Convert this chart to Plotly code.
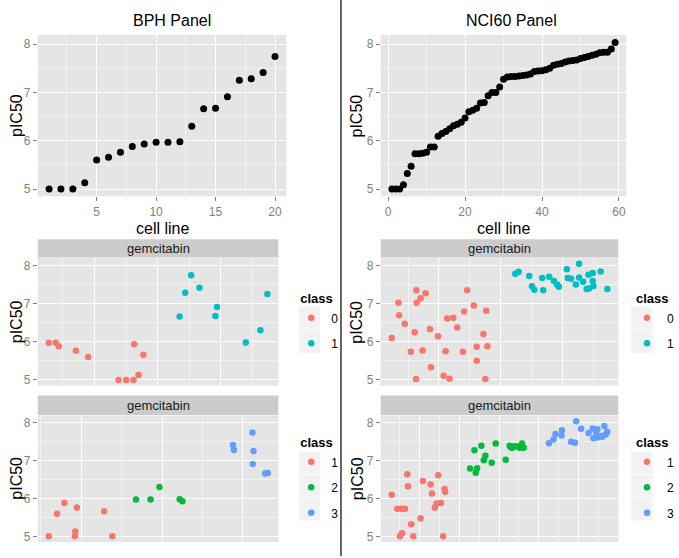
import plotly.graph_objects as go

W, H = 679, 558
FONT = "Liberation Sans"

# ---------------- data ----------------
bph_line = list(range(1, 21))
bph_pic50 = [5.00, 5.00, 5.00, 5.13, 5.60, 5.66, 5.76, 5.88, 5.93, 5.97,
             5.97, 5.98, 6.30, 6.66, 6.67, 6.91, 7.25, 7.28, 7.41, 7.74]

nci_line = list(range(1, 60))
nci_pic50 = [5.00, 5.00, 5.00, 5.09, 5.32, 5.47, 5.73, 5.73, 5.74, 5.76,
             5.87, 5.87, 6.09, 6.15, 6.19, 6.25, 6.31, 6.34, 6.38, 6.47,
             6.60, 6.63, 6.67, 6.78, 6.79, 6.93, 7.00, 7.00, 7.11, 7.27,
             7.32, 7.33, 7.33, 7.34, 7.35, 7.36, 7.38, 7.43, 7.44, 7.45,
             7.47, 7.50, 7.56, 7.58, 7.60, 7.63, 7.65, 7.66, 7.67, 7.70,
             7.72, 7.74, 7.77, 7.79, 7.82, 7.83, 7.83, 7.90, 8.03]

# BPH, two classes (jittered class position)
bph2_c0_x = [0.638, 0.693, 0.717, 0.853, 0.950, 1.191, 1.252, 1.309, 1.349, 1.315, 1.388]
bph2_c0_y = [5.97, 5.97, 5.88, 5.76, 5.60, 5.00, 5.00, 5.00, 5.13, 5.93, 5.66]
bph2_c1_x = [1.675, 1.719, 1.766, 1.832, 1.958, 1.971, 2.199, 2.315, 2.370]
bph2_c1_y = [6.66, 7.28, 7.74, 7.41, 6.67, 6.91, 5.98, 6.30, 7.25]

# BPH, three classes
bph3_c1_x = [0.598, 0.700, 0.791, 0.946, 0.926, 0.921, 1.283, 1.385]
bph3_c1_y = [5.00, 5.60, 5.88, 5.76, 5.13, 5.00, 5.66, 5.00]
bph3_c2_x = [1.677, 1.857, 1.968, 2.218, 2.251]
bph3_c2_y = [5.97, 5.97, 6.30, 5.98, 5.93]
bph3_c3_x = [2.877, 2.889, 3.119, 3.132, 3.123, 3.276, 3.308]
bph3_c3_y = [7.41, 7.28, 7.74, 7.25, 6.91, 6.66, 6.67]

# NCI60, two classes
nci2_c0_x = [0.618, 0.672, 0.677, 0.723, 0.772, 0.804, 0.817, 0.820, 0.852, 0.868,
             0.892, 0.935, 0.927, 0.992, 1.038, 1.054, 1.067, 1.086, 1.116, 1.148,
             1.194, 1.204, 1.228, 1.282, 1.306, 1.306, 1.360, 1.376, 1.382, 1.392, 0.815]
nci2_c0_y = [6.10, 7.02, 6.69, 6.47, 5.74, 6.25, 7.35, 7.02, 7.14, 5.77,
             7.27, 5.33, 6.33, 6.14, 5.11, 5.75, 6.61, 5.03, 6.63, 6.37,
             5.74, 6.79, 7.35, 6.95, 5.87, 5.50, 6.20, 5.02, 6.81, 5.88, 5.02]
nci2_c1_x = [1.618, 1.645, 1.731, 1.753, 1.772, 1.836, 1.844, 1.892, 1.930, 1.957,
             1.970, 2.035, 2.043, 2.070, 2.108, 2.134, 2.134, 2.167, 2.196, 2.210,
             2.215, 2.245, 2.245, 2.250, 2.309, 2.363]
nci2_c1_y = [7.78, 7.83, 7.72, 7.45, 7.36, 7.67, 7.35, 7.70, 7.59, 7.50,
             7.44, 7.90, 7.67, 7.65, 7.50, 8.04, 7.68, 7.57, 7.38, 7.75,
             7.39, 7.80, 7.59, 7.46, 7.84, 7.38]

# NCI60, three classes
nci3_c1_x = [0.649, 0.720, 0.774, 0.816, 0.845, 0.854, 0.895, 0.753, 0.778, 0.921,
             1.013, 1.042, 1.138, 1.155, 1.192, 1.213, 1.268, 1.234, 1.314, 1.322, 1.297]
nci3_c1_y = [6.10, 5.73, 5.73, 5.73, 6.64, 6.32, 5.32, 5.00, 5.08, 5.00,
             5.48, 6.46, 6.37, 6.13, 5.76, 5.87, 5.88, 6.61, 6.25, 6.18, 5.00]
nci3_c2_x = [1.636, 1.724, 1.707, 1.690, 1.778, 1.958, 1.828, 1.808, 1.908, 2.084,
             2.134, 2.163, 2.234, 2.289, 2.310, 2.192, 2.259, 2.146]
nci3_c2_y = [6.79, 6.80, 6.68, 7.27, 7.39, 7.45, 7.13, 7.01, 6.94, 7.02,
             7.39, 7.34, 7.37, 7.45, 7.34, 7.38, 7.34, 7.36]
nci3_c3_x = [2.971, 3.033, 2.791, 2.711, 2.787, 2.686, 2.628, 2.908, 2.958, 3.126,
             3.180, 3.238, 3.222, 3.326, 3.364, 3.343, 3.285, 3.188, 3.238, 3.297]
nci3_c3_y = [8.04, 7.84, 7.80, 7.70, 7.66, 7.56, 7.46, 7.50, 7.47, 7.73,
             7.85, 7.83, 7.75, 7.91, 7.76, 7.69, 7.65, 7.59, 7.61, 7.63]

y_ticks = [5, 6, 7, 8]
y_minor = [5.5, 6.5, 7.5]

# ---------------- helpers ----------------
def px(x):
    return x / W

def py(y):
    return 1 - y / H

RED, CYAN, GREEN, BLUE = "#F8766D", "#00BFC4", "#00BA38", "#619CFF"
PANEL_BG = "#E5E5E5"
GRID = "#FFFFFF"
MINOR = "#F2F2F2"
TICKCOL = "#7F7F7F"

fig = go.Figure()

# top panels
fig.add_trace(go.Scatter(x=bph_line, y=bph_pic50, mode="markers", xaxis="x", yaxis="y",
                         marker=dict(color="black", size=7), showlegend=False))
fig.add_trace(go.Scatter(x=nci_line, y=nci_pic50, mode="markers", xaxis="x2", yaxis="y2",
                         marker=dict(color="black", size=7), showlegend=False))

def add_cls(x, y, name, color, xa, ya, leg):
    fig.add_trace(go.Scatter(x=x, y=y, mode="markers", name=name, xaxis=xa, yaxis=ya,
                             marker=dict(color=color, size=6.5), legend=leg,
                             legendgroup=leg + name))

add_cls(bph2_c0_x, bph2_c0_y, "0", RED, "x3", "y3", "legend")
add_cls(bph2_c1_x, bph2_c1_y, "1", CYAN, "x3", "y3", "legend")
add_cls(nci2_c0_x, nci2_c0_y, "0", RED, "x4", "y4", "legend2")
add_cls(nci2_c1_x, nci2_c1_y, "1", CYAN, "x4", "y4", "legend2")
add_cls(bph3_c1_x, bph3_c1_y, "1", RED, "x5", "y5", "legend3")
add_cls(bph3_c2_x, bph3_c2_y, "2", GREEN, "x5", "y5", "legend3")
add_cls(bph3_c3_x, bph3_c3_y, "3", BLUE, "x5", "y5", "legend3")
add_cls(nci3_c1_x, nci3_c1_y, "1", RED, "x6", "y6", "legend4")
add_cls(nci3_c2_x, nci3_c2_y, "2", GREEN, "x6", "y6", "legend4")
add_cls(nci3_c3_x, nci3_c3_y, "3", BLUE, "x6", "y6", "legend4")

# ---------------- axes ----------------
def xax(l, r, rng, major, minor, labels):
    d = dict(domain=[px(l), px(r)], range=rng, tickmode="array", tickvals=major,
             showgrid=True, gridcolor=GRID, gridwidth=1.3, zeroline=False,
             showline=False, fixedrange=True,
             minor=dict(tickvals=minor, showgrid=True, gridcolor=MINOR, gridwidth=0.7, ticklen=0))
    if labels:
        d.update(ticks="outside", ticklen=4, tickwidth=1, tickcolor=TICKCOL,
                 tickfont=dict(family=FONT, size=12, color=TICKCOL), showticklabels=True)
    else:
        d.update(ticks="", showticklabels=False)
    return d

def yax(t, b, xanchor):
    return dict(domain=[py(b), py(t)], range=[4.85, 8.19], tickmode="array", tickvals=y_ticks,
                showgrid=True, gridcolor=GRID, gridwidth=1.3, zeroline=False, showline=False,
                ticks="outside", ticklen=4, tickwidth=1, tickcolor=TICKCOL,
                tickfont=dict(family=FONT, size=12, color=TICKCOL), anchor=xanchor,
                fixedrange=True,
                minor=dict(tickvals=y_minor, showgrid=True, gridcolor=MINOR, gridwidth=0.7, ticklen=0))

LX0, LX1 = 38, 288
RX0, RX1 = 383, 630
MLX1, MRX1 = 280, 622

layout = dict(
    width=W, height=H, margin=dict(l=0, r=0, t=0, b=0),
    paper_bgcolor="white", plot_bgcolor=PANEL_BG,
    font=dict(family=FONT, color="black"),
    xaxis=xax(LX0, LX1, [0.05, 20.95], [5, 10, 15, 20], [2.5, 7.5, 12.5, 17.5], True),
    yaxis=yax(35, 197, "x"),
    xaxis2=xax(RX0, RX1, [-1.9, 61.9], [0, 20, 40, 60], [10, 30, 50], True),
    yaxis2=yax(35, 197, "x2"),
    xaxis3=xax(LX0, MLX1, [0.551, 2.457], [1.0, 1.5, 2.0], [0.75, 1.25, 1.75, 2.25], False),
    yaxis3=yax(259, 387, "x3"),
    xaxis4=xax(RX0, MRX1, [0.529, 2.452], [1.0, 1.5, 2.0], [0.75, 1.25, 1.75, 2.25], False),
    yaxis4=yax(259, 387, "x4"),
    xaxis5=xax(LX0, MLX1, [0.462, 3.439], [1, 2, 3], [0.5, 1.5, 2.5], False),
    yaxis5=yax(417, 544, "x5"),
    xaxis6=xax(RX0, MRX1, [0.511, 3.502], [1, 1.5, 2, 2.5, 3], [0.75, 1.25, 1.75, 2.25, 2.75, 3.25], False),
    yaxis6=yax(417, 544, "x6"),
)
for k in ["xaxis", "xaxis2", "xaxis3", "xaxis4", "xaxis5", "xaxis6"]:
    layout[k]["anchor"] = "y" + k[5:]

def legend(x, y):
    return dict(x=px(x), y=py(y), xanchor="left", yanchor="top", bgcolor="rgba(0,0,0,0)",
                title=dict(text="<b>class</b>", font=dict(family=FONT, size=13, color="black")),
                font=dict(family=FONT, size=12, color="black"), tracegroupgap=6.5,
                itemwidth=30, indentation=-7)

layout["legend"] = legend(300, 287.5)
layout["legend2"] = legend(638, 287.5)
layout["legend3"] = legend(300, 432)
layout["legend4"] = legend(638, 432)

fig.update_layout(**layout)

shapes = []
# strips
for (l, r, t, b) in [(LX0, MLX1, 240, 258.5), (RX0, MRX1, 240, 258.5),
                     (LX0, MLX1, 397, 416.5), (RX0, MRX1, 397, 416.5)]:
    shapes.append(dict(type="rect", xref="paper", yref="paper", x0=px(l), x1=px(r),
                       y0=py(b), y1=py(t), fillcolor="#CCCCCC", line=dict(width=0), layer="below"))
# legend key backgrounds
for (l, tops) in [(300.5, [308, 331.5]), (635, [308, 331.5]),
                  (300.5, [453, 476.5, 500]), (635, [453, 476.5, 500])]:
    for t in tops:
        shapes.append(dict(type="rect", xref="paper", yref="paper", x0=px(l), x1=px(l + 21.5),
                           y0=py(t + 22.5), y1=py(t), fillcolor="#F2F2F2", line=dict(width=0),
                           layer="below"))
# separator
shapes.append(dict(type="line", xref="paper", yref="paper", x0=px(343), x1=px(343), y0=0, y1=1,
                   line=dict(color="#333333", width=1.5)))
fig.update_layout(shapes=shapes)

ann = []
def text(x, y, s, size, angle=0, color="black"):
    ann.append(dict(x=px(x), y=py(y), xref="paper", yref="paper", text=s, showarrow=False,
                    xanchor="center", yanchor="middle", textangle=angle,
                    font=dict(family=FONT, size=size, color=color)))

text(173, 21, "BPH Panel", 16)
text(515, 21, "NCI60 Panel", 16)
text(163, 229, "cell line", 16)
text(506.5, 229, "cell line", 16)
text(16.5, 116, "pIC50", 16, -90)
text(359, 116, "pIC50", 16, -90)
text(16.5, 323, "pIC50", 16, -90)
text(359, 323, "pIC50", 16, -90)
text(16.5, 480, "pIC50", 16, -90)
text(359, 480, "pIC50", 16, -90)
for (l, r, c) in [(LX0, MLX1, 249.5), (RX0, MRX1, 249.5), (LX0, MLX1, 407), (RX0, MRX1, 407)]:
    text((l + r) / 2, c, "gemcitabin", 13, color="#1A1A1A")
fig.update_layout(annotations=ann)

fig.write_html("out.html", config={"displayModeBar": False},
               post_script="document.body.style.margin='0';")
